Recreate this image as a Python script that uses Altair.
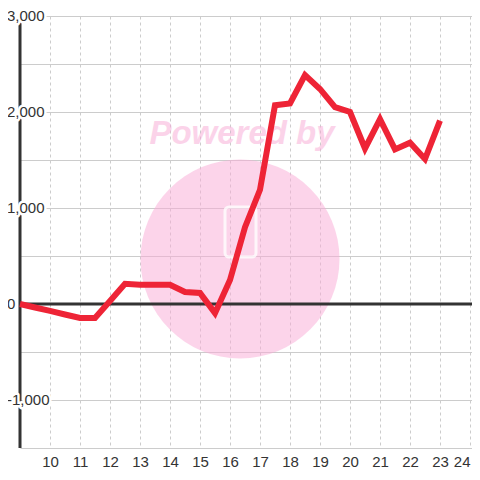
import altair as alt
import pandas as pd

# ---- data ----
hours = [9, 9.5, 10, 10.5, 11, 11.5, 12, 12.5, 13, 13.5, 14, 14.5, 15, 15.5,
         16, 16.5, 17, 17.5, 18, 18.5, 19, 19.5, 20, 20.5, 21, 21.5, 22, 22.5, 23]
values = [0, -36, -72, -109, -145, -145, 30, 210, 200, 200, 200, 125, 115, -95,
          250, 800, 1190, 2070, 2090, 2385, 2240, 2050, 2000, 1620, 1925, 1610,
          1680, 1510, 1910]

x_ticks = list(range(10, 25))
y_grid = [-1500, -1000, -500, 0, 500, 1000, 1500, 2000, 2500, 3000]
y_label_values = [3000, 2000, 1000, 0, -1000]
y_label_texts = ["3,000", "2,000", "1,000", "0", "-1,000"]

x_domain = [9, 24.0667]
y_domain = [-1500, 3000]

df = pd.DataFrame({"hour": hours, "value": values})
labels_df = pd.DataFrame({"v": y_label_values, "label": y_label_texts})
one = pd.DataFrame({"k": [0]})

FONT = "Liberation Sans"
xscale = alt.Scale(domain=x_domain, nice=False, zero=False)
yscale = alt.Scale(domain=y_domain, nice=False, zero=False)

x_axis = alt.Axis(values=x_ticks, grid=True, gridDash=[3, 3], gridColor="#cccccc",
                  ticks=False, tickSize=0, domain=False, labelFont=FONT,
                  labelFontSize=15, labelColor="#333333", labelPadding=6,
                  title=None, labelFlush=5, labelOverlap=False)
y_axis = alt.Axis(values=y_grid, grid=True, gridColor="#cccccc", labels=False,
                  ticks=False, tickSize=0, domain=False, title=None)

# watermark
circle = alt.Chart(one).mark_point(
    shape="circle", filled=True, fill="#f9a9d5", opacity=0.5, size=39600, stroke=None
).encode(x=alt.value(220), y=alt.value(243))

powered = alt.Chart(one).mark_text(
    text="Powered by", font=FONT, fontSize=33, fontWeight="bold", fontStyle="italic",
    fill="#f9a9d5", opacity=0.5, align="center", baseline="middle"
).encode(x=alt.value(222), y=alt.value(118))

logo = alt.Chart(one).mark_rect(
    fillOpacity=0, stroke="white", strokeWidth=3, cornerRadius=4, opacity=0.8
).encode(x=alt.value(205), x2=alt.value(236), y=alt.value(191), y2=alt.value(241))

# axis lines
yrule = alt.Chart(one).mark_rule(color="#333333", strokeWidth=3).encode(
    x=alt.X(datum=x_domain[0], scale=xscale, axis=x_axis),
    y=alt.Y(datum=y_domain[0], scale=yscale, axis=y_axis),
    y2=alt.Y2(datum=y_domain[1]),
)
zrule = alt.Chart(one).mark_rule(color="#333333", strokeWidth=3).encode(
    y=alt.Y(datum=0, scale=yscale, axis=y_axis),
    x=alt.X(datum=x_domain[0], scale=xscale, axis=x_axis),
    x2=alt.X2(datum=x_domain[1]),
)

line = alt.Chart(df).mark_line(color="#ee2436", strokeWidth=6, strokeJoin="miter").encode(
    x=alt.X("hour:Q", scale=xscale, axis=x_axis),
    y=alt.Y("value:Q", scale=yscale, axis=y_axis),
)

halo = alt.Chart(labels_df).mark_text(
    align="left", baseline="middle", dx=-13, font=FONT, fontSize=15,
    fill="white", stroke="white", strokeWidth=5, strokeJoin="round"
).encode(x=alt.value(0), y=alt.Y("v:Q", scale=yscale, axis=y_axis), text="label:N")

labels = alt.Chart(labels_df).mark_text(
    align="left", baseline="middle", dx=-13, font=FONT, fontSize=15, fill="#333333"
).encode(x=alt.value(0), y=alt.Y("v:Q", scale=yscale, axis=y_axis), text="label:N")

chart = alt.layer(circle, powered, logo, yrule, zrule, line, halo, labels).properties(
    width=452, height=432,
    autosize=alt.AutoSizeParams(type="none"),
    padding={"left": 12, "top": 8, "right": 0, "bottom": 24},
    background="white",
).configure_view(stroke=None)

chart.save("out.html", embed_options={"renderer": "svg", "actions": False})
